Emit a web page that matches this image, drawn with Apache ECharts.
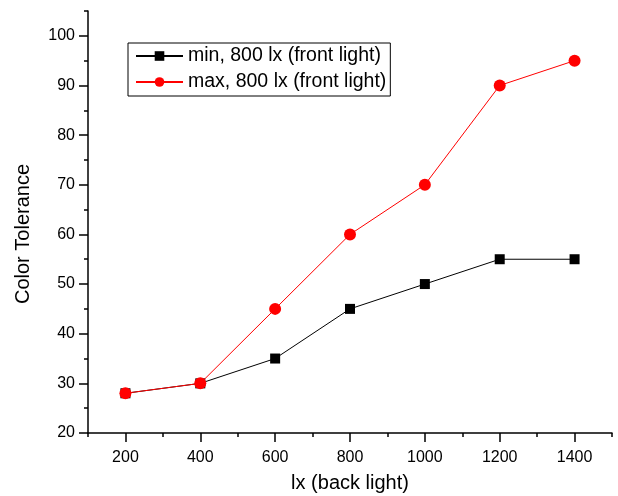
<!DOCTYPE html>
<html>
<head>
<meta charset="utf-8">
<script src="https://cdn.jsdelivr.net/npm/echarts@6/dist/echarts.min.js"></script>
<style>html,body{margin:0;padding:0;background:#fff}#c{width:618px;height:496px}</style>
</head>
<body>
<div id="c"></div>
<script>
var xValues = [200, 400, 600, 800, 1000, 1200, 1400];
var minSeries = [28, 30, 35, 45, 50, 55, 55];
var maxSeries = [28, 30, 45, 60, 70, 90, 95];
var xMajorTicks = [200, 400, 600, 800, 1000, 1200, 1400];
var xMinorTicks = [100, 300, 500, 700, 900, 1100, 1300, 1500];
var yMajorTicks = [20, 30, 40, 50, 60, 70, 80, 90, 100];
var yMinorTicks = [25, 35, 45, 55, 65, 75, 85, 95, 105];

var font = 'Liberation Sans, Arial, sans-serif';
function pairs(xs, ys) { return xs.map(function (x, i) { return [x, ys[i]]; }); }
function plain(v) { return String(v); }

var chart = echarts.init(document.getElementById('c'), null, { renderer: 'canvas' });
chart.setOption({
  animation: false,
  backgroundColor: '#fff',
  grid: { left: 88, right: 6, top: 11, bottom: 63, containLabel: false, outerBoundsMode: 'none' },
  legend: {
    left: 128, top: 43, orient: 'vertical',
    borderColor: '#000', borderWidth: 1, borderRadius: 0,
    backgroundColor: '#fff',
    padding: [3, 4, 4, 7],
    itemGap: 6, itemWidth: 47, itemHeight: 12,
    textStyle: { fontFamily: font, fontSize: 19.5, color: '#000' },
    data: ['min, 800 lx (front light)', 'max, 800 lx (front light)']
  },
  xAxis: [{
    type: 'value', min: 100, max: 1500,
    name: 'lx (back light)', nameLocation: 'middle', nameGap: 40,
    nameTextStyle: { fontFamily: font, fontSize: 20, color: '#000' },
    axisLine: { show: true, lineStyle: { color: '#000', width: 1.5 } },
    axisTick: { show: true, customValues: xMajorTicks, length: 9, lineStyle: { color: '#000', width: 1.5 } },
    axisLabel: { customValues: xMajorTicks, formatter: plain, fontFamily: font, fontSize: 16, color: '#000', margin: 17 },
    splitLine: { show: false }
  }, {
    type: 'value', min: 100, max: 1500, position: 'bottom',
    axisLine: { show: false },
    axisTick: { show: true, customValues: xMinorTicks, length: 4, lineStyle: { color: '#000', width: 1.5 } },
    axisLabel: { show: false },
    splitLine: { show: false }
  }],
  yAxis: [{
    type: 'value', min: 20, max: 105,
    name: 'Color Tolerance', nameLocation: 'middle', nameGap: 55,
    nameTextStyle: { fontFamily: font, fontSize: 20, color: '#000', padding: [0, 24, 0, 0] },
    axisLine: { show: true, lineStyle: { color: '#000', width: 1.5 } },
    axisTick: { show: true, customValues: yMajorTicks, length: 9, lineStyle: { color: '#000', width: 1.5 } },
    axisLabel: { customValues: yMajorTicks, formatter: plain, fontFamily: font, fontSize: 16, color: '#000', margin: 13 },
    splitLine: { show: false }
  }, {
    type: 'value', min: 20, max: 105, position: 'left',
    axisLine: { show: false },
    axisTick: { show: true, customValues: yMinorTicks, length: 4, lineStyle: { color: '#000', width: 1.5 } },
    axisLabel: { show: false },
    splitLine: { show: false }
  }],
  series: [{
    name: 'min, 800 lx (front light)', type: 'line',
    data: pairs(xValues, minSeries),
    symbol: 'rect', symbolSize: 10,
    lineStyle: { color: '#000', width: 1 },
    itemStyle: { color: '#000' },
    z: 2
  }, {
    name: 'max, 800 lx (front light)', type: 'line',
    data: pairs(xValues, maxSeries),
    symbol: 'circle', symbolSize: 12,
    lineStyle: { color: '#ff0000', width: 1 },
    itemStyle: { color: '#ff0000' },
    z: 3
  }]
});
</script>
</body>
</html>
